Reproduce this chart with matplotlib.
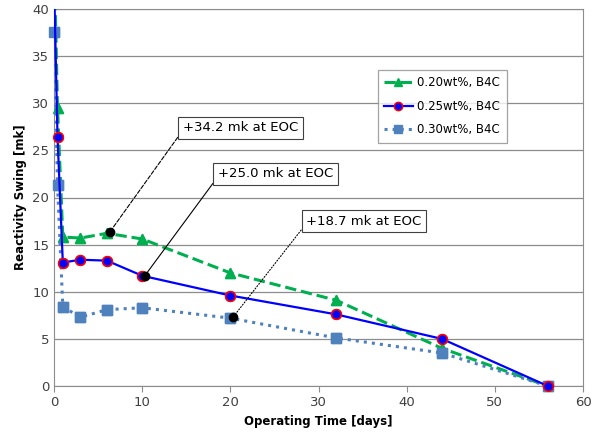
import matplotlib.pyplot as plt

# data
days = [0, 0.4, 1, 3, 6, 10, 20, 32, 44, 56]
swing_020 = [46.0, 29.5, 15.8, 15.7, 16.2, 15.6, 12.0, 9.1, 4.0, 0.0]
swing_025 = [43.0, 26.4, 13.1, 13.4, 13.3, 11.7, 9.6, 7.6, 5.0, 0.0]
swing_030 = [37.6, 21.3, 8.4, 7.3, 8.1, 8.3, 7.2, 5.1, 3.5, 0.0]

labels = ["0.20wt%, B4C", "0.25wt%, B4C", "0.30wt%, B4C"]
notes = ["+34.2 mk at EOC", "+25.0 mk at EOC", "+18.7 mk at EOC"]
note_pts = [(6.3, 16.3), (10.3, 11.7), (20.3, 7.3)]
note_txt = [(14.6, 27.4), (18.6, 22.5), (28.6, 17.5)]
note_ls = ["--", "-", ":"]

plt.rcParams['font.family'] = ['DejaVu Sans']
fig = plt.figure(figsize=(5.92, 4.41), dpi=100)
ax = fig.add_axes([54/592, 55/441, 529/592, 377/441])

styles = [
    dict(ls='--', color='#00B050', lw=2.2, marker='^', ms=7, mfc='#00B050', mec='#00B050'),
    dict(ls='-', color='#0000FF', lw=1.6, marker='o', ms=7, mfc='#0000FF', mec='#FF0000', mew=1.1),
    dict(ls=':', color='#4F81BD', lw=2.2, marker='s', ms=7, mfc='#4F81BD', mec='#4F81BD'),
]
for ys, lab, st, z in zip([swing_020, swing_025, swing_030], labels, styles, [3, 4, 3]):
    ax.plot(days, ys, label=lab, zorder=z, **st)
    # markers on the axis edge are not cut in the original
    inside = [(d, y) for d, y in zip(days, ys) if y <= 40]
    st2 = dict(st, ls='none')
    ax.plot([p[0] for p in inside], [p[1] for p in inside], zorder=z, clip_on=False, **st2)

for txt, pt, tp, ls in zip(notes, note_pts, note_txt, note_ls):
    ax.plot(*pt, 'o', color='black', ms=6, zorder=6)
    ax.annotate(txt, xy=pt, xytext=tp, fontsize=9.5, ha='left', va='center',
                bbox=dict(boxstyle='square,pad=0.35', fc='white', ec='#404040', lw=0.8),
                arrowprops=dict(arrowstyle='-', color='black', lw=0.8, ls=ls,
                                shrinkA=0, shrinkB=0, relpos=(0, 0.3)),
                zorder=7)

ax.set_xlim(0, 60)
ax.set_ylim(0, 40)
ax.set_xticks(range(0, 61, 10))
ax.set_yticks(range(0, 41, 5))
ax.yaxis.grid(True, color='#8c8c8c', lw=0.9)
ax.set_axisbelow(True)
ax.tick_params(labelsize=9.5, colors='#404040', length=4, color='#8c8c8c')
ax.tick_params(axis='y', length=0)
for s in ax.spines.values():
    s.set_color('#8c8c8c')
ax.set_xlabel("Operating Time [days]", fontsize=8.5, fontweight='bold')
ax.set_ylabel("Reactivity Swing [mk]", fontsize=8.5, fontweight='bold')

leg = ax.legend(loc='upper left', bbox_to_anchor=(0.601, 0.855), fontsize=8.5,
                frameon=True, fancybox=False, edgecolor='#8c8c8c',
                handlelength=2.4, handletextpad=0.4, borderpad=0.55,
                labelspacing=0.9, markerscale=0.85)
leg.get_frame().set_linewidth(0.9)

fig.savefig("out.png", dpi=100)
